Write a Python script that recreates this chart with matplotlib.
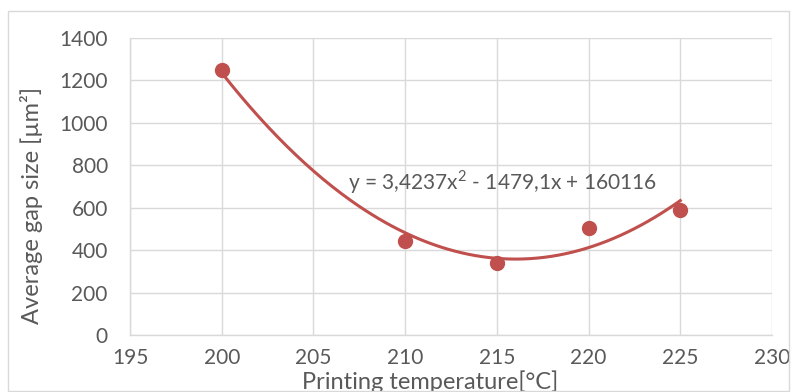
"""Scatter of average gap size vs printing temperature with quadratic trendline."""

import numpy as np
import matplotlib

matplotlib.use("Agg")
import matplotlib.pyplot as plt

TEMPS = [200, 210, 215, 220, 225]
GAP_SIZE = [1250, 443, 339, 504, 589]
X_TICKS = [195, 200, 205, 210, 215, 220, 225, 230]
Y_TICKS = [0, 200, 400, 600, 800, 1000, 1200, 1400]
EQUATION = "y = 3,4237x$^{2}$ - 1479,1x + 160116"

RED = "#C0504D"
TEXT = "#595959"
GRID = "#D9D9D9"

plt.rcParams["font.family"] = ["Lato", "DejaVu Sans"]
plt.rcParams["mathtext.fontset"] = "custom"
plt.rcParams["mathtext.rm"] = "Lato"

fig = plt.figure(figsize=(7.92, 3.92), dpi=100)
ax = fig.add_axes([130 / 792, 1 - 335 / 392, (772 - 130) / 792, (335 - 38) / 392])

# outer chart border
fig.patches.append(
    plt.Rectangle((8 / 792, 0.002), 781 / 792, (392 - 12) / 392,
                  transform=fig.transFigure, fill=False, edgecolor=GRID, linewidth=1.0)
)

coef = np.polyfit(TEMPS, GAP_SIZE, 2)
xs = np.linspace(min(TEMPS), max(TEMPS), 200)
ax.plot(xs, np.polyval(coef, xs), color=RED, linewidth=2.2, zorder=3)
ax.plot(TEMPS, GAP_SIZE, "o", color=RED, markersize=10, zorder=4)

ax.set_xlim(195, 230)
ax.set_ylim(0, 1400)
ax.set_xticks(X_TICKS)
ax.set_yticks(Y_TICKS)
ax.grid(True, color=GRID, linewidth=1.0)
ax.set_axisbelow(True)
for side in ("top", "right"):
    ax.spines[side].set_visible(False)
for side in ("left", "bottom"):
    ax.spines[side].set_color(GRID)
    ax.spines[side].set_linewidth(1.0)
ax.tick_params(length=0, labelsize=15, labelcolor=TEXT)
ax.tick_params(axis="x", pad=9)
ax.tick_params(axis="y", pad=16)

ax.text(206.9, 721, EQUATION, fontsize=15, color=TEXT, ha="left", va="center")

ax.set_xlabel("Printing temperature[°C]", fontsize=17, color=TEXT, va="center")
ax.xaxis.set_label_coords((430 - 130) / 642, -(382 - 335) / 297)
ax.set_ylabel("Average gap size [µm²]", fontsize=17, color=TEXT, va="center")
ax.yaxis.set_label_coords((32 - 130) / 642, (335 - 205) / 297)

fig.savefig("out.png", dpi=100)
